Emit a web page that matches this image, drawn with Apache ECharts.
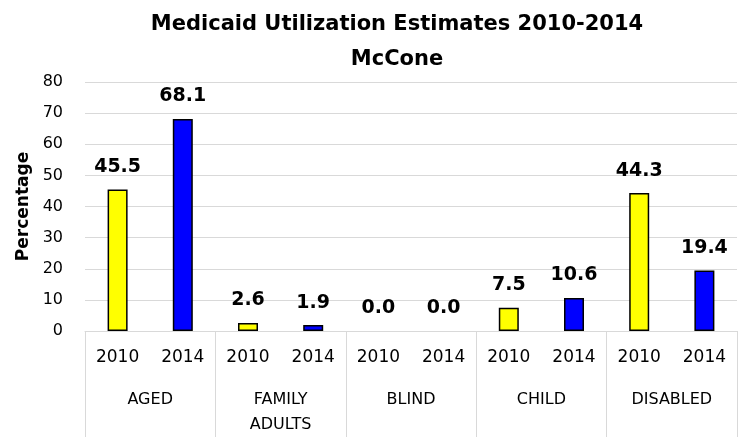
<!DOCTYPE html>
<html>
<head>
<meta charset="utf-8">
<script src="https://cdn.jsdelivr.net/npm/echarts@6/dist/echarts.min.js"></script>
<style>
  html, body { margin: 0; padding: 0; background: #fff; }
  #chart { width: 739px; height: 437px; }
</style>
</head>
<body>
<div id="chart"></div>
<script>
// groups and years on the two-level x axis
var groups = ['AGED', 'FAMILY\nADULTS', 'BLIND', 'CHILD', 'DISABLED'];
var years = ['2010', '2014'];
var values2010 = [45.5, 2.6, 0.0, 7.5, 44.3];
var values2014 = [68.1, 1.9, 0.0, 10.6, 19.4];
var yTicks = [0, 10, 20, 30, 40, 50, 60, 70, 80];

var yearCats = [];
var barData = [];
function barItem(v, color) {
  // a zero bar shows nothing in the original, not even its outline
  return { value: v, itemStyle: { color: color, borderWidth: v === 0 ? 0 : 1.5 } };
}
for (var i = 0; i < groups.length; i++) {
  yearCats.push(years[0], years[1]);
  barData.push(barItem(values2010[i], '#FFFF00'));
  barData.push(barItem(values2014[i], '#0000FF'));
}

var font = 'DejaVu Sans';
var chart = echarts.init(document.getElementById('chart'));
chart.setOption({
  animation: false,
  textStyle: { fontFamily: font },
  title: {
    text: 'Medicaid Utilization Estimates 2010-2014\nMcCone',
    left: 397,
    textAlign: 'center',
    top: 7,
    padding: 0,
    textStyle: { fontFamily: font, fontSize: 21, fontWeight: 'bold', color: '#000', lineHeight: 35 }
  },
  grid: { left: 85, right: 2, top: 82, bottom: 103 },
  xAxis: [
    {
      type: 'category',
      data: yearCats,
      position: 'bottom',
      axisLine: { show: true, lineStyle: { color: '#d9d9d9', width: 1 } },
      axisTick: { show: false },
      axisLabel: { interval: 0, margin: 18, fontSize: 17, color: '#000', fontFamily: font }
    },
    {
      type: 'category',
      data: groups,
      position: 'bottom',
      axisLine: { show: false },
      axisTick: { show: true, interval: 0, length: 110, lineStyle: { color: '#d9d9d9', width: 1 } },
      axisLabel: { interval: 0, margin: 56, fontSize: 16, color: '#000', lineHeight: 25,
                   verticalAlign: 'top', fontFamily: font }
    }
  ],
  yAxis: {
    type: 'value',
    min: yTicks[0],
    max: yTicks[yTicks.length - 1],
    interval: 10,
    name: 'Percentage',
    nameLocation: 'middle',
    nameRotate: 90,
    nameGap: 53,
    nameTextStyle: { fontFamily: font, fontSize: 17, fontWeight: 'bold', color: '#000' },
    axisLine: { show: false },
    axisTick: { show: false },
    axisLabel: { margin: 22, fontSize: 16, color: '#000', fontFamily: font },
    splitLine: { lineStyle: { color: '#d9d9d9', width: 1 } }
  },
  series: [
    {
      type: 'bar',
      xAxisIndex: 0,
      data: barData,
      barWidth: 20,
      itemStyle: { borderColor: '#000', borderWidth: 1.5 },
      label: {
        show: true,
        position: 'top',
        distance: 13,
        fontFamily: font,
        fontSize: 19,
        fontWeight: 'bold',
        color: '#000',
        formatter: function (p) { return p.value.toFixed(1); }
      }
    }
  ]
});
</script>
</body>
</html>
